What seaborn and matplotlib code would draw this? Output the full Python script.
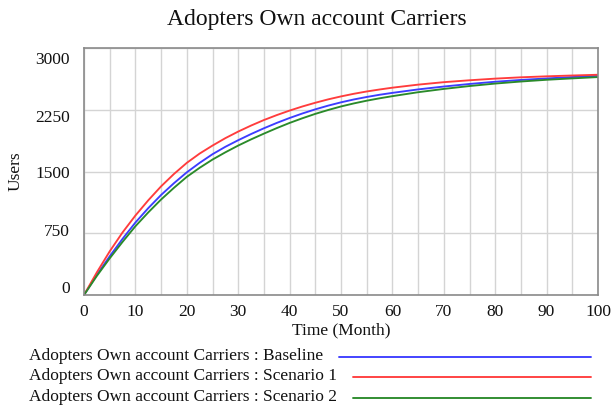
import numpy as np
import pandas as pd
import matplotlib
matplotlib.use("Agg")
import matplotlib.pyplot as plt
from matplotlib.transforms import ScaledTranslation
from matplotlib.lines import Line2D
import seaborn as sns

# ---- data ----
months = [0, 2.5, 5, 7.5, 10, 12.5, 15, 17.5, 20, 22.5, 25, 27.5, 30, 32.5, 35, 37.5, 40,
          42.5, 45, 47.5, 50, 52.5, 55, 57.5, 60, 65, 70, 75, 80, 85, 90, 95, 100]
baseline = [0, 245, 470, 682, 880, 1055, 1215, 1358, 1490, 1605, 1710, 1800, 1880, 1955,
            2025, 2090, 2150, 2205, 2255, 2300, 2340, 2375, 2405, 2432, 2455, 2497, 2532,
            2563, 2590, 2612, 2630, 2647, 2662]
scenario1 = [0, 275, 530, 760, 965, 1150, 1320, 1470, 1605, 1718, 1815, 1905, 1985, 2058,
             2125, 2185, 2240, 2290, 2335, 2376, 2412, 2444, 2472, 2496, 2518, 2555, 2585,
             2608, 2628, 2644, 2656, 2666, 2675]
scenario2 = [0, 232, 445, 645, 835, 1003, 1160, 1302, 1435, 1545, 1645, 1733, 1815, 1890,
             1960, 2027, 2090, 2147, 2200, 2247, 2290, 2327, 2360, 2389, 2415, 2463, 2503,
             2538, 2568, 2593, 2614, 2631, 2647]
series_names = ["Adopters Own account Carriers : Baseline",
                "Adopters Own account Carriers : Scenario 1",
                "Adopters Own account Carriers : Scenario 2"]
y_ticks = [0, 750, 1500, 2250, 3000]
x_ticks = [0, 10, 20, 30, 40, 50, 60, 70, 80, 90, 100]
title = "Adopters Own account Carriers"

df = pd.concat([
    pd.DataFrame({"Time": months, "Users": vals, "Series": name})
    for name, vals in zip(series_names, [baseline, scenario1, scenario2])
], ignore_index=True)

colors = ["#3c3cff", "#ff3c3c", "#2a8a2a"]
palette = dict(zip(series_names, colors))

sns.set_style("white")
plt.rcParams["font.family"] = ["Liberation Serif", "DejaVu Serif"]

W, H = 611, 405
fig = plt.figure(figsize=(W / 100, H / 100), dpi=100)
L, R, T, B = 84, 598, 48, 295
ax = fig.add_axes([L / W, 1 - B / H, (R - L) / W, (B - T) / H])

sns.lineplot(data=df, x="Time", y="Users", hue="Series", palette=palette,
             linewidth=1.35, ax=ax, legend=False)

ax.set_xlim(0, 100)
ax.set_ylim(0, 3000)
ax.set_xticks(x_ticks)
ax.set_xticks(np.arange(0, 101, 5), minor=True)
ax.set_yticks(y_ticks)
ax.grid(True, which="both", axis="x", color="#d4d4d4", linewidth=1.0)
ax.grid(True, which="major", axis="y", color="#d4d4d4", linewidth=1.0)
ax.set_axisbelow(True)
ax.tick_params(axis="both", which="both", length=0, labelsize=12.5, colors="#111111")
ax.tick_params(axis="y", pad=10)
ax.tick_params(axis="x", pad=6.5)
for s in ax.spines.values():
    s.set_color("#8a8a8a")
    s.set_linewidth(1.2)

ax.set_xlabel("Time (Month)", fontsize=12.5, color="#111111")
ax.set_ylabel("Users", fontsize=12.5, color="#111111")
ax.xaxis.set_label_coords(0.5, -0.11)
ax.yaxis.set_label_coords(-0.118, 0.5)

# Vensim-style compressed y tick label placement
fig.canvas.draw()
offsets_px = [8, 3, 0, -6, -10]
for lab, dy in zip(ax.get_yticklabels(), offsets_px):
    lab.set_transform(lab.get_transform() + ScaledTranslation(0, dy / 100, fig.dpi_scale_trans))

fig.text(317 / W, 1 - 19 / H, title, ha="center", va="center", fontsize=17, color="#111111")

# legend (text left, line right)
rows_y = [356, 376, 397]
line_start = [339, 353, 353]
for name, c, yy, xs in zip(series_names, colors, rows_y, line_start):
    fig.text(29 / W, 1 - yy / H, name, ha="left", va="center", fontsize=12.5, color="#111111")
    fig.add_artist(Line2D([xs / W, 591 / W], [1 - (yy + 1) / H, 1 - (yy + 1) / H],
                          color=c, linewidth=1.35, transform=fig.transFigure))

fig.savefig("out.png", dpi=100)
